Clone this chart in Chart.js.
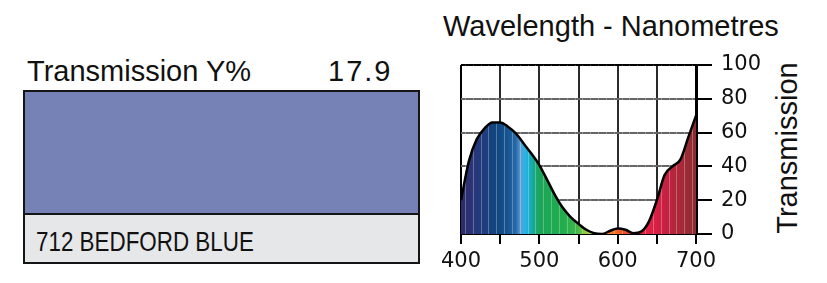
<!DOCTYPE html>
<html>
<head>
<meta charset="utf-8">
<script src="https://cdn.jsdelivr.net/npm/chart.js@4"></script>
<style>
  html, body { margin: 0; padding: 0; background: #fff; }
  body { width: 827px; height: 283px; position: relative; overflow: hidden; font-family: "Liberation Sans", Arial, sans-serif; color: #111; }
  .txt { position: absolute; white-space: nowrap; line-height: 1; font-size: 29px; }
  #card { position: absolute; left: 23px; top: 90px; width: 397px; height: 174px; border: 2px solid #151515; box-sizing: border-box; }
  #swatch { height: 121px; background: #7682b6; border-bottom: 2px solid #151515; }
  #label { height: 47px; background: #e6e7e8; }
  #chart { position: absolute; left: 0; top: 0; }
</style>
</head>
<body>
<div class="txt" style="left:27px; top:57px;">Transmission Y%</div>
<div class="txt" style="left:328px; top:57px; letter-spacing:2px;">17.9</div>
<div id="card"><div id="swatch"></div><div id="label"></div></div>
<div class="txt" style="left:36px; top:228px; font-size:28px; transform:scaleX(0.8); transform-origin:left top;">712 BEDFORD BLUE</div>
<div class="txt" style="left:443px; top:12px;">Wavelength - Nanometres</div>
<div class="txt" style="left:787px; top:148px; transform:translate(-50%,-50%) rotate(-90deg);">Transmission</div>
<canvas id="chart" width="827" height="283"></canvas>
<script>
// valeurs (nm / % transmission)
const wavelengths = [400, 410, 420, 430, 440, 450, 460, 470, 480, 490, 500, 510, 520, 530, 540, 550,
                     560, 570, 580, 590, 600, 610, 620, 630, 640, 650, 660, 670, 680, 690, 700];
const transmission = [20, 43, 56, 62.5, 66, 66, 63.5, 59.5, 53.5, 47.5, 40.8, 32, 23, 15.5, 10, 6,
                      2.5, 0.5, 0, 1.8, 3.3, 2.5, 0.5, 1.4, 7.5, 20, 35, 40, 44, 57, 70];
const xTicks = [400, 500, 600, 700];
const yTicks = [0, 20, 40, 60, 80, 100];

// couleurs du spectre pour le remplissage
const spectrum = [
  [400, '#2d2a6a'], [415, '#2b3577'], [430, '#1d3d7f'], [445, '#10457f'], [460, '#165592'],
  [470, '#2668a8'], [476, '#5d9bd0'], [481, '#2bb3e8'], [487, '#18aed0'], [493, '#16a888'],
  [500, '#1ba55a'], [530, '#20ad4c'], [548, '#3db64b'], [558, '#8dc63f'], [568, '#c4d631'],
  [575, '#f6b21b'], [585, '#f7941d'], [600, '#f26522'], [615, '#ef3b2c'], [630, '#ea2240'],
  [650, '#d71f45'], [665, '#c02241'], [680, '#a82a3a'], [700, '#8a2b30']
];

const points = wavelengths.map((w, i) => ({ x: w, y: transmission[i] }));

function spectrumFill(c) {
  const chart = c.chart;
  if (!chart.chartArea) return 'transparent';
  const xs = chart.scales.x;
  const g = chart.ctx.createLinearGradient(xs.getPixelForValue(400), 0, xs.getPixelForValue(700), 0);
  spectrum.forEach(s => g.addColorStop((s[0] - 400) / 300, s[1]));
  return g;
}

// fines bandes claires dans le remplissage
const stripes = {
  id: 'stripes',
  afterDatasetDraw(chart, args) {
    if (args.index !== 0) return;
    const ctx = chart.ctx, xs = chart.scales.x, a = chart.chartArea;
    ctx.save();
    ctx.globalCompositeOperation = 'source-atop';
    ctx.strokeStyle = 'rgba(255,255,255,0.28)';
    ctx.lineWidth = 1;
    for (let w = 405; w < 700; w += 10) {
      const px = Math.round(xs.getPixelForValue(w)) + 0.5;
      ctx.beginPath(); ctx.moveTo(px, a.top); ctx.lineTo(px, a.bottom); ctx.stroke();
    }
    ctx.restore();
  }
};

const tickFont = (size) => ({ family: '"DejaVu Sans", sans-serif', size: size });

new Chart(document.getElementById('chart'), {
  type: 'line',
  data: {
    datasets: [
      { data: points, fill: 'origin', backgroundColor: spectrumFill, borderWidth: 0,
        pointRadius: 0, cubicInterpolationMode: 'monotone', order: 2 },
      { data: points, fill: false, borderColor: '#000', borderWidth: 2.5,
        pointRadius: 0, cubicInterpolationMode: 'monotone', order: 1 }
    ]
  },
  options: {
    responsive: false, animation: false, devicePixelRatio: 1,
    layout: { padding: { left: 461, top: 65, right: 0, bottom: 0 } },
    plugins: { legend: { display: false }, tooltip: { enabled: false } },
    scales: {
      x: {
        type: 'linear', min: 400, max: 700, z: 1,
        ticks: { stepSize: 50, autoSkip: false, maxRotation: 0, padding: 5, color: '#111', font: tickFont(21),
                 callback: v => xTicks.includes(v) ? String(v) : '' },
        grid: { color: c => (c.tick && (c.tick.value === 400 || c.tick.value === 700)) ? '#000' : '#2a2a2a',
                lineWidth: 2, tickLength: 10, tickColor: '#000', tickWidth: 2 },
        border: { color: '#000', width: 2 },
        afterFit: s => { s.height = 49; }
      },
      y: {
        position: 'right', min: 0, max: 100, z: 1,
        ticks: { stepSize: 20, padding: 9, color: '#111', font: tickFont(21),
                 callback: v => yTicks.includes(v) ? String(v) : '' },
        grid: { color: c => (c.tick && (c.tick.value === 0 || c.tick.value === 100)) ? '#000' : '#666',
                lineWidth: 2, tickLength: 16, tickColor: '#000', tickWidth: 2 },
        border: { color: '#000', width: 3 },
        afterFit: s => { s.width = 131; }
      }
    }
  },
  plugins: [stripes]
});
</script>
</body>
</html>
